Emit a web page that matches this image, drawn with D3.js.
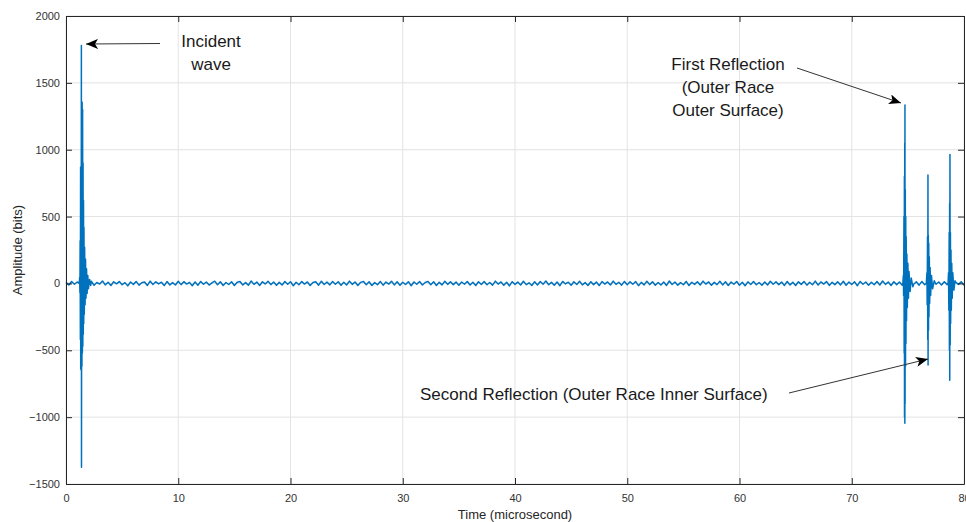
<!DOCTYPE html>
<html>
<head>
<meta charset="utf-8">
<script src="https://cdn.jsdelivr.net/npm/d3@7"></script>
<style>
  body { margin: 0; background: #fff; }
  svg { display: block; font-family: 'Liberation Sans', Arial, sans-serif; }
</style>
</head>
<body>
<div class="container"></div>
<script>
// axis ticks
const xTicks = [0, 10, 20, 30, 40, 50, 60, 70, 80];
const yTicks = [-1500, -1000, -500, 0, 500, 1000, 1500, 2000];

// baseline noise, one sample every 0.25 microsecond from 0 to 80
const noiseStep = 0.25;
const baselineNoise = [
  8, -12, 15, -6, 11, -17, 4, 13, -9, 16, -14, 7, -5, 18, -11, 9, -16, 12, -3, 14,
  -10, 6, -18, 11, -7, 15, -13, 5, 10, -15, 17, -8, 12, -4, 9, -16, 14, -11, 6, -12,
  16, -9, 13, -5, 8, -17, 11, -14, 15, -6, 10, -12, 4, 17, -10, 13, -15, 7, -8, 12,
  -16, 9, 14, -11, 6, -13, 18, -7, 10, -15, 12, -4, 16, -9, 11, -14, 8, -12, 15, -6,
  13, -17, 9, -10, 14, -5, 11, -16, 7, 12, -13, 16, -8, 10, -11, 15, -6, 13, -14, 9,
  -12, 17, -7, 11, -15, 8, 14, -10, 12, -16, 6, -9, 15, -13, 10, -5, 16, -11, 12, -14,
  9, -8, 13, -17, 11, -6, 14, -12, 7, 15, -10, 12, -15, 8, -11, 16, -7, 13, -9, 10,
  -14, 11, -6, 15, -12, 9, -16, 12, -8, 14, -10, 7, -13, 17, -5, 11, -14, 9, -18, 13,
  -7, 10, -12, 16, -9, 5, -15, 12, -11, 14, -6, 18, -10, 8, -13, 11, -17, 15, -4, 9,
  -14, 12, -8, 16, -11, 6, -15, 13, -9, 10, -16, 14, -5, 11, -12, 17, -7, 9, -13, 15,
  -10, 12, -6, 14, -17, 8, -11, 16, -9, 13, -14, 7, -12, 10, -15, 18, -8, 11, -13, 6,
  -10, 15, -16, 9, -7, 13, -12, 17, -5, 11, -14, 8, -9, 16, -11, 12, -15, 10, -6, 14,
  -13, 9, -17, 12, -8, 15, -10, 7, -14, 11, -12, 16, -6, 13, -9, 10, -15, 14, -11, 8,
  -16, 12, -7, 15, -13, 9, -10, 17, -12, 11, -5, 14, -15, 8, -9, 13, -11, 16, -14, 10,
  -8, 12, -17, 15, -6, 11, -13, 9, -10, 14, -12, 18, -7, 10, -15, 13, -9, 11, -14, 7,
  -11, 16, -8, 12, -13, 15, -10, 9, -16, 14, -6, 11, -12, 13, -9, 17, -15, 10, -7, 12,
  -14
];

// bursts: [time (microsecond), amplitude (bits)]
const incidentWave = [
  [1.18, 0], [1.22, 45], [1.24, -70], [1.26, 320], [1.28, -420], [1.30, 870],
  [1.31, -640], [1.33, 860], [1.35, -650], [1.37, 1780], [1.38, -1375], [1.40, 720],
  [1.42, -620], [1.44, 1355], [1.46, -520], [1.48, 1300], [1.50, -470], [1.52, 900],
  [1.54, -380], [1.56, 620], [1.58, -300], [1.60, 420], [1.63, -230], [1.66, 270],
  [1.70, -160], [1.74, 180], [1.78, -110], [1.83, 110], [1.88, -75], [1.94, 60],
  [2.00, -40], [2.10, 30], [2.20, -15]
];
const firstReflection = [
  [74.55, 0], [74.60, 60], [74.62, -90], [74.65, 500], [74.67, -520], [74.69, 800],
  [74.70, -1000], [74.72, 1050], [74.73, -1045], [74.74, 1335], [74.75, -900],
  [74.77, 700], [74.79, -620], [74.81, 500], [74.83, -450], [74.85, 350], [74.88, -280],
  [74.91, 220], [74.95, -180], [75.00, 150], [75.05, -110], [75.10, 90], [75.20, -60],
  [75.30, 40], [75.45, -25]
];
const secondReflection = [
  [76.64, 0], [76.70, 80], [76.72, -160], [76.75, 350], [76.77, -420], [76.79, 810],
  [76.80, -610], [76.82, 360], [76.84, -350], [76.86, 300], [76.88, -250], [76.91, 200],
  [76.94, -150], [76.98, 120], [77.03, -90], [77.10, 60], [77.20, -40], [77.35, 20]
];
const thirdEcho = [
  [78.58, 0], [78.62, 80], [78.65, -200], [78.68, 380], [78.70, -500], [78.72, 600],
  [78.73, -725], [78.75, 965], [78.77, -460], [78.79, 380], [78.81, -300], [78.84, 250],
  [78.87, -200], [78.91, 150], [78.95, -110], [79.00, 80], [79.10, -50], [79.20, 20]
];

const w = 966;
const h = 522;
const margin = { top: 16, right: 2, bottom: 38, left: 66 };

const bursts = [incidentWave, firstReflection, secondReflection, thirdEcho];
const inBurst = (t) => bursts.some((b) => t >= b[0][0] && t <= b[b.length - 1][0]);
const signal = baselineNoise
  .map((v, i) => [i * noiseStep, v])
  .filter((d) => !inBurst(d[0]))
  .concat(...bursts)
  .sort((a, b) => a[0] - b[0]);

const svg = d3
  .select('.container')
  .append('svg')
  .attr('width', w)
  .attr('height', h);

const xScale = d3.scaleLinear().domain([0, 80]).range([margin.left, w - margin.right]);
const yScale = d3.scaleLinear().domain([-1500, 2000]).range([h - margin.bottom, margin.top]);

// grid
svg
  .append('g')
  .selectAll('line')
  .data(xTicks)
  .enter()
  .append('line')
  .attr('x1', (d) => xScale(d))
  .attr('x2', (d) => xScale(d))
  .attr('y1', margin.top)
  .attr('y2', h - margin.bottom)
  .style('stroke', '#e3e3e3');
svg
  .append('g')
  .selectAll('line')
  .data(yTicks)
  .enter()
  .append('line')
  .attr('x1', margin.left)
  .attr('x2', w - margin.right)
  .attr('y1', (d) => yScale(d))
  .attr('y2', (d) => yScale(d))
  .style('stroke', '#e3e3e3');

// signal
const line = d3.line().x((d) => xScale(d[0])).y((d) => yScale(d[1]));
svg
  .append('path')
  .datum(signal)
  .attr('d', line)
  .style('fill', 'none')
  .style('stroke', '#0072BD')
  .style('stroke-width', 1.5)
  .style('stroke-linejoin', 'round');

// axes, MATLAB style box with inward ticks
const tickLen = 6;
const xAxis = d3.axisBottom(xScale).tickValues(xTicks).tickSizeInner(-tickLen).tickSizeOuter(0).tickPadding(10).tickFormat(d3.format('d'));
const yAxis = d3.axisLeft(yScale).tickValues(yTicks).tickSizeInner(-tickLen).tickSizeOuter(0).tickPadding(6).tickFormat(d3.format('d'));
const xTop = d3.axisTop(xScale).tickValues(xTicks).tickSizeInner(-tickLen).tickSizeOuter(0).tickFormat('');
const yRight = d3.axisRight(yScale).tickValues(yTicks).tickSizeInner(-tickLen).tickSizeOuter(0).tickFormat('');

const axes = [
  svg.append('g').attr('transform', 'translate(0,' + (h - margin.bottom) + ')').call(xAxis),
  svg.append('g').attr('transform', 'translate(' + margin.left + ',0)').call(yAxis),
  svg.append('g').attr('transform', 'translate(0,' + margin.top + ')').call(xTop),
  svg.append('g').attr('transform', 'translate(' + (w - margin.right) + ',0)').call(yRight)
];
axes.forEach((g) => {
  g.selectAll('path, line').style('stroke', '#262626');
  g.selectAll('text').style('fill', '#333').style('font-size', '11px').style('font-family', "'Liberation Sans', Arial, sans-serif");
});

svg
  .append('text')
  .attr('x', (margin.left + w - margin.right) / 2)
  .attr('y', h - 3)
  .attr('text-anchor', 'middle')
  .style('font-size', '13px')
  .style('fill', '#262626')
  .text('Time (microsecond)');

svg
  .append('text')
  .attr('transform', 'rotate(-90)')
  .attr('x', -(margin.top + h - margin.bottom) / 2)
  .attr('y', 22)
  .attr('text-anchor', 'middle')
  .style('font-size', '13px')
  .style('fill', '#262626')
  .text('Amplitude (bits)');

// annotations
svg
  .append('defs')
  .append('marker')
  .attr('id', 'head')
  .attr('viewBox', '0 0 12 10')
  .attr('refX', 12)
  .attr('refY', 5)
  .attr('markerWidth', 12)
  .attr('markerHeight', 10)
  .attr('markerUnits', 'userSpaceOnUse')
  .attr('orient', 'auto')
  .append('path')
  .attr('d', 'M0,0 L12,5 L0,10 L3,5 Z')
  .style('fill', '#000');

const arrows = [
  [160, 43.5, 86, 44],
  [797, 68, 901, 103],
  [789, 393, 928, 359]
];
svg
  .append('g')
  .selectAll('line')
  .data(arrows)
  .enter()
  .append('line')
  .attr('x1', (d) => d[0])
  .attr('y1', (d) => d[1])
  .attr('x2', (d) => d[2])
  .attr('y2', (d) => d[3])
  .style('stroke', '#333')
  .style('stroke-width', 1)
  .attr('marker-end', 'url(#head)');

const notes = [
  { x: 211, y: 47, lines: ['Incident', 'wave'], anchor: 'middle' },
  { x: 728, y: 70, lines: ['First Reflection', '(Outer Race', 'Outer Surface)'], anchor: 'middle' },
  { x: 420, y: 400, lines: ['Second Reflection (Outer Race Inner Surface)'], anchor: 'start' }
];
notes.forEach((n) => {
  const t = svg
    .append('text')
    .attr('x', n.x)
    .attr('y', n.y)
    .attr('text-anchor', n.anchor)
    .style('font-size', '17px')
    .style('fill', '#1a1a1a');
  n.lines.forEach((l, i) => {
    t.append('tspan').attr('x', n.x).attr('dy', i === 0 ? 0 : 23).text(l);
  });
});
</script>
</body>
</html>
